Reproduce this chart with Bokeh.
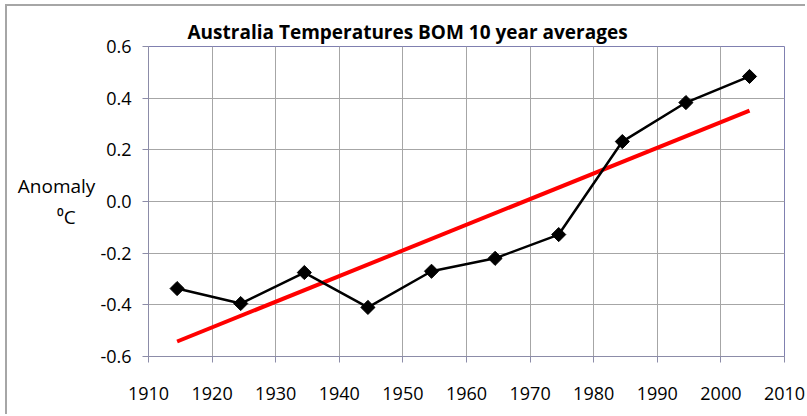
import math
from bokeh.plotting import figure
from bokeh.models import Range1d, FixedTicker, CustomJSTickFormatter
from bokeh.embed import file_html
from bokeh.resources import INLINE

# ---- data ----
years = [1914.5, 1924.5, 1934.5, 1944.5, 1954.5, 1964.5, 1974.5, 1984.5, 1994.5, 2004.5]
anomaly = [-0.337, -0.395, -0.275, -0.41, -0.27, -0.22, -0.128, 0.232, 0.383, 0.484]
trend_years = [1914.5, 2004.5]
trend_values = [-0.542, 0.352]
x_ticks = [1910, 1920, 1930, 1940, 1950, 1960, 1970, 1980, 1990, 2000, 2010]
y_ticks = [-0.6, -0.4, -0.2, 0.0, 0.2, 0.4, 0.6]
title_text = "Australia Temperatures BOM 10 year averages"
y_label = "Anomaly\n\u2070C\u00a0\u00a0\u00a0\u00a0"

FONT = "Open Sans"

p = figure(width=800, height=410, output_backend="svg", toolbar_location=None,
           x_range=Range1d(1910, 2010), y_range=Range1d(-0.6, 0.6),
           min_border_left=141, min_border_right=23, min_border_top=40, min_border_bottom=60,
           title=title_text)
p.styles = {"margin-left": "5px", "margin-top": "4px",
            "border-left": "2px solid #a6a6a6", "border-top": "2px solid #a6a6a6"}

p.title.align = "left"
p.title.offset = 39
p.title.text_font = FONT
p.title.text_font_style = "bold"
p.title.text_font_size = "19px"
p.title.text_color = "black"
p.title.standoff = 4

p.outline_line_color = "#8080b0"
p.outline_line_width = 1

p.xaxis.ticker = FixedTicker(ticks=x_ticks)
p.yaxis.ticker = FixedTicker(ticks=y_ticks)
p.yaxis.formatter = CustomJSTickFormatter(code="return tick.toFixed(1);")

for ax in (p.xaxis, p.yaxis):
    ax.axis_line_color = "#8c8ca8"
    ax.major_tick_line_color = "#8c8ca8"
    ax.minor_tick_line_color = None
    ax.major_tick_out = 6
    ax.major_tick_in = 0
    ax.major_label_text_font = FONT
    ax.major_label_text_font_size = "18px"
    ax.major_label_text_color = "black"

p.xaxis.major_label_standoff = 24
p.yaxis.major_label_standoff = 11

p.yaxis.axis_label = y_label
p.yaxis.axis_label_orientation = "horizontal"
p.yaxis.axis_label_text_font = FONT
p.yaxis.axis_label_text_font_size = "19px"
p.yaxis.axis_label_text_font_style = "normal"
p.yaxis.axis_label_text_color = "black"
p.yaxis.axis_label_standoff = 2

p.xgrid.ticker = FixedTicker(ticks=x_ticks)
p.ygrid.ticker = FixedTicker(ticks=y_ticks)
p.xgrid.grid_line_color = "#a6a6a6"
p.ygrid.grid_line_color = "#a6a6a6"

p.line(trend_years, trend_values, line_color="#ff0000", line_width=4)
p.line(years, anomaly, line_color="black", line_width=2.5)
p.scatter(years, anomaly, marker="square", angle=math.pi / 4, size=10,
          fill_color="black", line_color="black")

open("out.html", "w").write(file_html(p, INLINE))
